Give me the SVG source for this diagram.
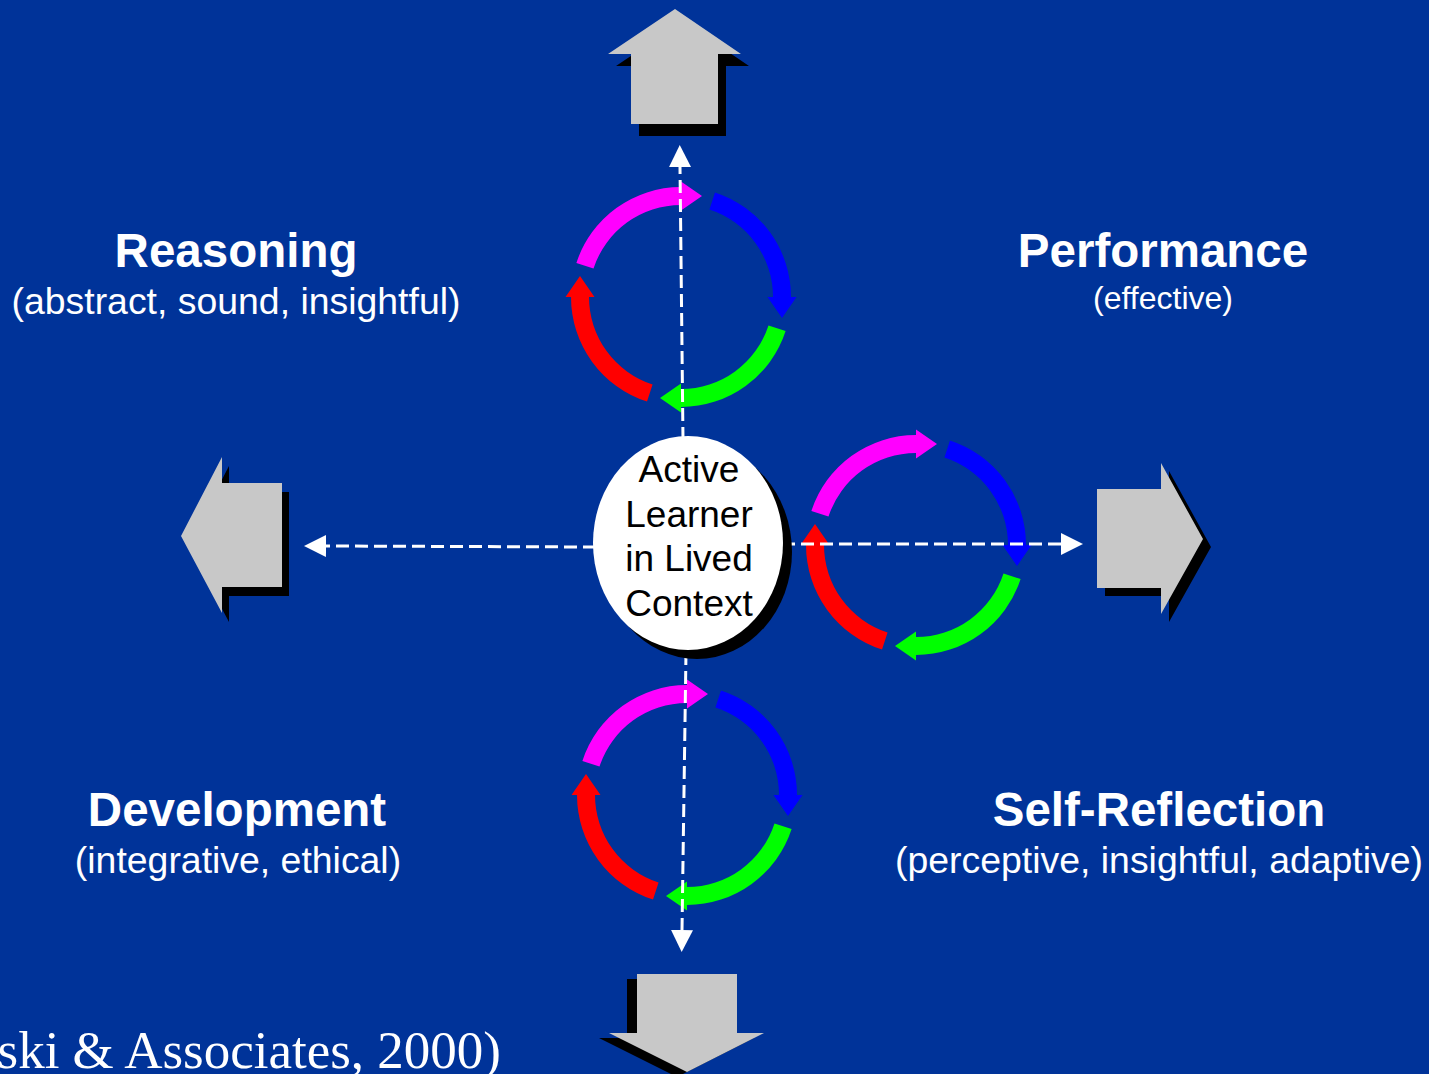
<svg xmlns="http://www.w3.org/2000/svg" xmlns:xlink="http://www.w3.org/1999/xlink" width="1429" height="1074" viewBox="0 0 1429 1074">
  <style>
    .bg { fill: #003399; }
    .block { fill: #c8c8c8; }
    .shadow { fill: #000000; }
    .link { fill: none; stroke: #ffffff; stroke-width: 3; stroke-dasharray: 13 6; }
    .title { font-family: "Liberation Sans", Arial, sans-serif; font-weight: bold; font-size: 47.5px; fill: #ffffff; text-anchor: middle; }
    .sub { font-family: "Liberation Sans", Arial, sans-serif; font-size: 37.4px; fill: #ffffff; text-anchor: middle; }
    .sub-sm { font-family: "Liberation Sans", Arial, sans-serif; font-size: 32px; fill: #ffffff; text-anchor: middle; }
    .core { font-family: "Liberation Sans", Arial, sans-serif; font-size: 37px; fill: #000000; text-anchor: middle; }
    .cite { font-family: "Liberation Serif", "Times New Roman", serif; font-size: 53px; fill: #ffffff; text-anchor: end; }
  </style>
  <defs>
    <marker id="tip" viewBox="0 0 22 22" refX="0" refY="11" markerWidth="22" markerHeight="22" markerUnits="userSpaceOnUse" orient="auto">
      <path d="M0,0 L22,11 L0,22 Z" fill="#ffffff"/>
    </marker>
    <!-- one curved arrow of the cycle, centred on the origin (tail at 198deg, head at 270deg) -->
    <path id="seg" d="M-87.50,-28.43 L-104.62,-33.99 A110 110 0 0 1 0,-110 L0,-115.5 L21,-101 L0,-86.5 L0,-92 A92 92 0 0 0 -87.50,-28.43 Z"/>
    <g id="cycle">
      <use xlink:href="#seg" href="#seg" fill="#ff00ff"/>
      <use xlink:href="#seg" href="#seg" fill="#0000ff" transform="rotate(90)"/>
      <use xlink:href="#seg" href="#seg" fill="#00ff00" transform="rotate(180)"/>
      <use xlink:href="#seg" href="#seg" fill="#ff0000" transform="rotate(270)"/>
    </g>
  </defs>

  <rect class="bg" x="0" y="0" width="1429" height="1074"/>

  <!-- outcome block arrows -->
  <g id="arrow-up">
    <polygon class="shadow" transform="translate(8,12)" points="675,9 741,54 718,54 718,124 631,124 631,54 608,54"/>
    <polygon class="block" points="675,9 741,54 718,54 718,124 631,124 631,54 608,54"/>
  </g>
  <g id="arrow-left">
    <polygon class="shadow" transform="translate(7,9)" points="181,536 222,457 222,483 282,483 282,587 222,587 222,613"/>
    <polygon class="block" points="181,536 222,457 222,483 282,483 282,587 222,587 222,613"/>
  </g>
  <g id="arrow-right">
    <polygon class="shadow" transform="translate(8,8)" points="1097,489 1161,489 1161,463 1203,539 1161,614 1161,588 1097,588"/>
    <polygon class="block" points="1097,489 1161,489 1161,463 1203,539 1161,614 1161,588 1097,588"/>
  </g>
  <g id="arrow-down">
    <polygon class="shadow" transform="translate(-10,5)" points="637,974 737,974 737,1033 764,1033 687,1072 609,1033 637,1033"/>
    <polygon class="block" points="637,974 737,974 737,1033 764,1033 687,1072 609,1033 637,1033"/>
  </g>

  <!-- learning cycles -->
  <g id="cycle-top" transform="translate(681,297)"><use xlink:href="#cycle" href="#cycle"/></g>
  <g id="cycle-right" transform="translate(916,545)"><use xlink:href="#cycle" href="#cycle"/></g>
  <g id="cycle-bottom" transform="translate(687,795)"><use xlink:href="#cycle" href="#cycle"/></g>

  <!-- dashed connectors from the learner outwards -->
  <g id="connectors">
    <path class="link" d="M683,440 L680,167" marker-end="url(#tip)"/>
    <path class="link" d="M686,652 L682,930" marker-end="url(#tip)"/>
    <path class="link" d="M596,547 L326,546" marker-end="url(#tip)"/>
    <path class="link" d="M782,544 L1061,544" marker-end="url(#tip)"/>
  </g>

  <!-- centre node -->
  <g id="learner">
    <ellipse cx="697" cy="552" rx="95" ry="107" fill="#000000"/>
    <ellipse cx="688" cy="543" rx="95" ry="107" fill="#ffffff"/>
    <text class="core" x="689" y="482">Active</text>
    <text class="core" x="689" y="527">Learner</text>
    <text class="core" x="689" y="571">in Lived</text>
    <text class="core" x="689" y="616">Context</text>
  </g>

  <!-- quadrant labels -->
  <g id="reasoning">
    <text class="title" x="236" y="267">Reasoning</text>
    <text class="sub" x="236" y="314">(abstract, sound, insightful)</text>
  </g>
  <g id="performance">
    <text class="title" x="1163" y="267">Performance</text>
    <text class="sub-sm" x="1163" y="309">(effective)</text>
  </g>
  <g id="development">
    <text class="title" x="237" y="826">Development</text>
    <text class="sub" x="238" y="873">(integrative, ethical)</text>
  </g>
  <g id="self-reflection">
    <text class="title" x="1159" y="826">Self-Reflection</text>
    <text class="sub" x="1159" y="873">(perceptive, insightful, adaptive)</text>
  </g>

  <text class="cite" x="501" y="1068">ski &amp; Associates, 2000)</text>
</svg>
